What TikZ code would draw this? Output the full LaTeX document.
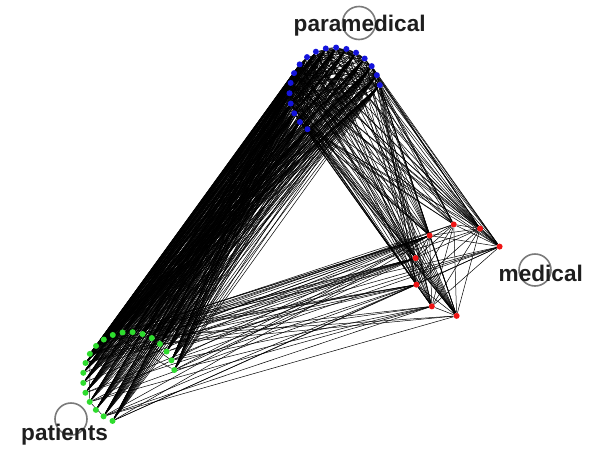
\documentclass[tikz,border=0pt]{standalone}
\usepackage{fontspec}
\setmainfont{Liberation Sans}
\pgfdeclarelayer{bg}
\pgfsetlayers{bg,main}
\definecolor{patgreen}{HTML}{2EDC2E}
\definecolor{parblue}{HTML}{1414DC}
\definecolor{medred}{HTML}{EE1414}
\definecolor{ringgray}{HTML}{7A7A7A}
\definecolor{lbltext}{HTML}{1E1E1E}
\begin{document}
\begin{tikzpicture}[x=1pt,y=-1pt,
  edge/.style={black, line width=0.5pt},
  dotnode/.style={circle, inner sep=0pt, minimum size=6pt, draw=none},
  pat/.style={dotnode, fill=patgreen},
  par/.style={dotnode, fill=parblue},
  med/.style={dotnode, fill=medred},
  ring/.style={circle, draw=ringgray, line width=1.6pt, inner sep=0pt},
  lbl/.style={anchor=base west, inner sep=0pt, text=lbltext,
    font=\fontsize{22.6}{26}\selectfont\bfseries}]
\useasboundingbox (0,0) rectangle (607,448);
% patients (green)
\foreach \k in {0,...,19}{
  \pgfmathsetmacro\a{10+\k*12.58}
  \pgfmathtruncatemacro\n{\k+1}
  \node[pat] (p\n) at ({129+46*cos(\a)},{378-46*sin(\a)}) {};
}
% paramedical (blue)
\foreach \k in {0,...,17}{
  \pgfmathsetmacro\a{10+\k*13.1}
  \pgfmathtruncatemacro\n{\k+1}
  \node[par] (n\n) at ({335+45.5*cos(\a)},{93-45.5*sin(\a)}) {};
}
% medical (red)
\foreach \k in {0,...,7}{
  \pgfmathsetmacro\a{30.6+\k*33.6}
  \pgfmathtruncatemacro\n{\k+1}
  \node[med] (m\n) at ({460+46*cos(\a)},{270-46*sin(\a)}) {};
}
% labels
\node[ring, minimum size=33pt] (rpar) at (359,23) {};
\node[ring, minimum size=32pt] (rmed) at (535,270) {};
\node[ring, minimum size=32pt] (rpat) at (71,419) {};
\node[lbl] (lpar) at (293.5,31.8) {paramedical};
\node[lbl] (lmed) at (498.5,281.7) {medical};
\node[lbl] (lpat) at (21,440) {patients};
% edges
\begin{pgfonlayer}{bg}
\pgfmathsetseed{12}
% patients - paramedical
\foreach \i in {1,...,20}{\foreach \j in {1,...,18}{
  \pgfmathtruncatemacro\keep{rnd<0.9}
  \ifnum\keep=1 \draw[edge] (p\i)--(n\j);\fi}}
% paramedical - medical
\foreach \i in {1,...,18}{\foreach \j in {1,...,8}{
  \pgfmathtruncatemacro\keep{rnd<0.65}
  \ifnum\keep=1 \draw[edge] (n\i)--(m\j);\fi}}
% patients - medical
\foreach \i in {1,...,20}{\foreach \j/\pr in {1/0.15,2/0.15,3/0.2,4/0.65,5/0.6,6/0.35,7/0.3,8/0.3}{
  \pgfmathtruncatemacro\keep{rnd<\pr}
  \ifnum\keep=1 \draw[edge] (p\i)--(m\j);\fi}}
% paramedical internal
\foreach \i in {1,...,17}{
  \pgfmathtruncatemacro\s{\i+1}
  \foreach \j in {\s,...,18}{
  \pgfmathtruncatemacro\keep{rnd<0.6}
  \ifnum\keep=1 \draw[edge] (n\i)--(n\j);\fi}}
% medical internal
\foreach \i in {1,...,7}{
  \pgfmathtruncatemacro\s{\i+1}
  \foreach \j in {\s,...,8}{
  \pgfmathtruncatemacro\keep{rnd<0.85}
  \ifnum\keep=1 \draw[edge] (m\i)--(m\j);\fi}}
% patients internal
\foreach \i in {1,...,19}{
  \pgfmathtruncatemacro\s{\i+1}
  \foreach \j in {\s,...,20}{
  \pgfmathtruncatemacro\keep{rnd<0.04}
  \ifnum\keep=1 \draw[edge] (p\i)--(p\j);\fi}}
\end{pgfonlayer}
\end{tikzpicture}
\end{document}
